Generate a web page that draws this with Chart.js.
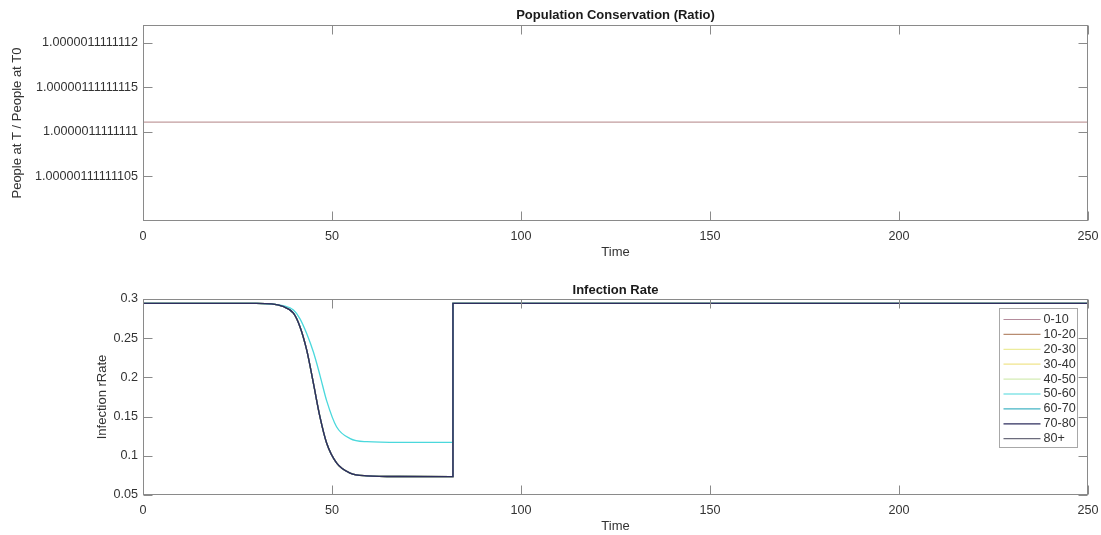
<!DOCTYPE html>
<html>
<head>
<meta charset="utf-8">
<script src="https://cdn.jsdelivr.net/npm/chart.js@4"></script>
<style>
html, body { margin: 0; padding: 0; background: #fff; }
canvas { position: absolute; left: 0; }
#ratio-chart { top: 0; }
#rate-chart { top: 270px; }
</style>
</head>
<body>
<canvas id="ratio-chart" width="1101" height="270"></canvas>
<canvas id="rate-chart" width="1101" height="265"></canvas>
<script>
// shared x axis
var timeTicks = [0, 50, 100, 150, 200, 250];

// top plot: population ratio
var ratioTime = [0, 25, 50, 75, 100, 125, 150, 175, 200, 225, 250];
var ratioValues = [1.000001111111111, 1.000001111111111, 1.000001111111111, 1.000001111111111,
    1.000001111111111, 1.000001111111111, 1.000001111111111, 1.000001111111111,
    1.000001111111111, 1.000001111111111, 1.000001111111111];
var ratioTickValues = [1.00000111111105, 1.0000011111111, 1.00000111111115, 1.0000011111112];
var ratioTickLabels = ['1.00000111111105', '1.0000011111111', '1.00000111111115', '1.0000011111112'];

// bottom plot: infection rate per age group
var ageGroups = ['0-10', '10-20', '20-30', '30-40', '40-50', '50-60', '60-70', '70-80', '80+'];
var groupColors = ['#b48c9c', '#b88c70', '#ecec9c', '#f0e48c', '#d4ecb4', '#4ad8dc', '#44b4c4', '#2e2e5e', '#6c6c7c'];
var groupOrder = [8, 7, 6, 5, 4, 2, 3, 0, 1];
var rateTime = [0, 30, 34, 37, 39.8, 41.5, 43.3, 45.1, 46.8, 48.6, 51.2, 54.8, 59.2, 68, 82, 82, 250];
var rateLow = [0.2945, 0.2945, 0.2938, 0.2905, 0.282, 0.265, 0.235, 0.192, 0.150, 0.116, 0.091, 0.078, 0.0745, 0.0736, 0.0735, 0.2945, 0.2945];
var rateMid = [0.2945, 0.2945, 0.2936, 0.2915, 0.286, 0.275, 0.256, 0.232, 0.203, 0.170, 0.137, 0.122, 0.118, 0.117, 0.117, 0.2945, 0.2945];
var rateSeries = [rateLow, rateLow, rateLow, rateLow, rateLow, rateMid, rateLow, rateLow, rateLow];
var rateTickValues = [0.05, 0.1, 0.15, 0.2, 0.25, 0.3];
var rateTickLabels = ['0.05', '0.1', '0.15', '0.2', '0.25', '0.3'];

var FONT = '"Liberation Sans", Arial, sans-serif';
var TEXT = '#333333';
var AXIS = '#8a8a8a';
Chart.defaults.font.family = FONT;
Chart.defaults.color = TEXT;

function nearestLabel(values, labels, v) {
    var best = 0;
    for (var i = 1; i < values.length; i++) {
        if (Math.abs(values[i] - v) < Math.abs(values[best] - v)) best = i;
    }
    return labels[best];
}

// matlab style box, inward ticks and title over the plot area
var matlabAxes = {
    id: 'matlabAxes',
    afterDatasetsDraw: function (chart, args, opts) {
        var ctx = chart.ctx, a = chart.chartArea;
        var xs = chart.scales.x, ys = chart.scales.y;
        var L = Math.round(a.left) + 0.5, R = Math.round(a.right) - 0.5;
        var T = Math.round(a.top) + 0.5, B = Math.round(a.bottom) - 0.5;
        var tick = 9;
        ctx.save();
        ctx.strokeStyle = AXIS;
        ctx.lineWidth = 1;
        ctx.strokeRect(L, T, R - L, B - T);
        ctx.beginPath();
        xs.ticks.forEach(function (t) {
            var px = Math.round(xs.getPixelForValue(t.value)) + 0.5;
            ctx.moveTo(px, B); ctx.lineTo(px, B - tick);
            ctx.moveTo(px, T); ctx.lineTo(px, T + tick);
        });
        ys.ticks.forEach(function (t) {
            var py = Math.round(ys.getPixelForValue(t.value)) + 0.5;
            ctx.moveTo(L, py); ctx.lineTo(L + tick, py);
            ctx.moveTo(R, py); ctx.lineTo(R - tick, py);
        });
        ctx.stroke();

        ctx.fillStyle = '#1a1a1a';
        ctx.font = 'bold 13px ' + FONT;
        ctx.textAlign = 'center';
        ctx.textBaseline = 'middle';
        ctx.fillText(opts.text, (a.left + a.right) / 2, a.top - opts.gap);

        if (opts.legend) {
            var bw = 78, bh = 139;
            var bx = Math.round(a.right) - 11 - bw + 0.5, by = Math.round(a.top) + 9 + 0.5;
            ctx.fillStyle = '#ffffff';
            ctx.fillRect(bx, by, bw, bh);
            ctx.strokeStyle = '#a8a8a8';
            ctx.strokeRect(bx, by, bw, bh);
            ctx.font = '12.6px ' + FONT;
            ctx.textAlign = 'left';
            chart.data.datasets.forEach(function (ds, i) {
                var y = by + 11 + i * 14.9;
                ctx.strokeStyle = ds.borderColor;
                ctx.lineWidth = 1.2;
                ctx.beginPath();
                ctx.moveTo(bx + 4, y); ctx.lineTo(bx + 41, y);
                ctx.stroke();
                ctx.fillStyle = TEXT;
                ctx.fillText(ds.label, bx + 44, y);
            });
        }
        ctx.restore();
    }
};

function xAxis(height, titlePad) {
    return {
        type: 'linear', min: 0, max: 250,
        grid: { display: false, drawTicks: false },
        border: { display: false },
        afterBuildTicks: function (s) { s.ticks = timeTicks.map(function (v) { return { value: v }; }); },
        afterFit: function (s) { s.height = height; s.paddingLeft = 0; s.paddingRight = 0; },
        ticks: { padding: 7.5, font: { size: 12.6 }, color: TEXT },
        title: { display: true, text: 'Time', font: { size: 13 }, color: TEXT, padding: { top: 0, bottom: titlePad } }
    };
}

var ratioCtx = document.getElementById('ratio-chart').getContext('2d');
var ratioChart = new Chart(ratioCtx, {
    type: 'line',
    data: {
        datasets: [{
            label: 'Ratio',
            data: ratioTime.map(function (t, i) { return { x: t, y: ratioValues[i] }; }),
            borderColor: '#c29c9e',
            borderWidth: 1.3,
            pointRadius: 0
        }]
    },
    plugins: [matlabAxes],
    options: {
        responsive: false,
        animation: false,
        devicePixelRatio: 1,
        layout: { padding: { top: 25, right: 13, left: 0, bottom: 0 } },
        plugins: {
            legend: { display: false },
            tooltip: { enabled: false },
            matlabAxes: { text: 'Population Conservation (Ratio)', gap: 10 }
        },
        scales: {
            x: xAxis(49, 10),
            y: {
                type: 'linear', min: 1.0000011111110, max: 1.00000111111122,
                grid: { display: false, drawTicks: false },
                border: { display: false },
                afterBuildTicks: function (s) { s.ticks = ratioTickValues.map(function (v) { return { value: v }; }); },
                afterFit: function (s) { s.width = 143; s.paddingTop = 0; s.paddingBottom = 0; },
                ticks: {
                    padding: 5, font: { size: 12.6 }, color: TEXT,
                    callback: function (v) { return nearestLabel(ratioTickValues, ratioTickLabels, v); }
                },
                title: { display: true, text: 'People at T / People at T0', font: { size: 13 }, color: TEXT, padding: { top: 9.7, bottom: 0 } }
            }
        }
    }
});

var rateCtx = document.getElementById('rate-chart').getContext('2d');
var rateChart = new Chart(rateCtx, {
    type: 'line',
    data: {
        datasets: ageGroups.map(function (g, k) {
            return {
                label: g,
                data: rateTime.map(function (t, i) { return { x: t, y: rateSeries[k][i] }; }),
                borderColor: groupColors[k],
                borderWidth: 1.3,
                pointRadius: 0,
                cubicInterpolationMode: 'monotone',
                order: groupOrder[k]
            };
        })
    },
    plugins: [matlabAxes],
    options: {
        responsive: false,
        animation: false,
        devicePixelRatio: 1,
        layout: { padding: { top: 29, right: 13, left: 0, bottom: 0 } },
        plugins: {
            legend: { display: false },
            tooltip: { enabled: false },
            matlabAxes: { text: 'Infection Rate', gap: 9, legend: true }
        },
        scales: {
            x: xAxis(40, 1.2),
            y: {
                type: 'linear', min: 0.05, max: 0.3,
                grid: { display: false, drawTicks: false },
                border: { display: false },
                afterBuildTicks: function (s) { s.ticks = rateTickValues.map(function (v) { return { value: v }; }); },
                afterFit: function (s) { s.width = 143; s.paddingTop = 0; s.paddingBottom = 0; },
                ticks: {
                    padding: 5, font: { size: 12.6 }, color: TEXT,
                    callback: function (v) { return nearestLabel(rateTickValues, rateTickLabels, v); }
                },
                title: { display: true, text: 'Infection rRate', font: { size: 13 }, color: TEXT, padding: { top: 94.7, bottom: 0 } }
            }
        }
    }
});
</script>
</body>
</html>
